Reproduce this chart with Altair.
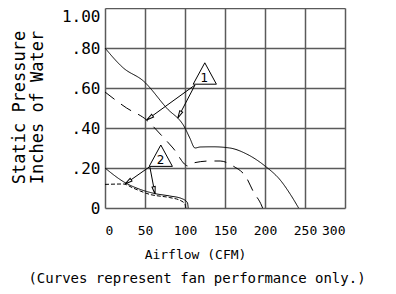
import altair as alt
import pandas as pd

# Curve 1 (solid) and curve 1 (dashed)
s1_x = [0, 23, 48, 77, 100, 106, 112.5, 119, 135, 156, 177, 200, 219, 233, 242]
s1_y = [0.80, 0.70, 0.635, 0.50, 0.40, 0.35, 0.30, 0.305, 0.306, 0.30, 0.27, 0.21, 0.14, 0.06, 0.0]
d1_x = [0, 27, 52, 69, 85, 104, 112.5, 131, 144, 160, 177, 185, 196, 197]
d1_y = [0.58, 0.50, 0.44, 0.37, 0.30, 0.21, 0.227, 0.235, 0.235, 0.21, 0.15, 0.085, 0.01, 0.0]
# Curve 2 (solid) and curve 2 (dashed)
s2_x = [0, 25, 44, 62.5, 81, 96, 103, 104]
s2_y = [0.20, 0.127, 0.093, 0.072, 0.06, 0.047, 0.027, 0.0]
d2_x = [0, 23, 35, 56, 81, 94, 100, 101]
d2_y = [0.118, 0.12, 0.10, 0.068, 0.052, 0.038, 0.02, 0.0]

# Callouts
callout_names = ["1", "2"]
callout_x = [124.75, 69.75]
callout_y = [0.6725, 0.2615]
callout_text_x = [124.0, 69.6]
callout_text_y = [0.652, 0.2385]

arrow_x = [112.5, 112.5, 56, 56]
arrow_y = [0.615, 0.615, 0.207, 0.207]
arrow_x2 = [52, 91, 25, 62.5]
arrow_y2 = [0.44, 0.45, 0.12, 0.07]

x_ticks = [0, 50, 100, 150, 200, 250, 300]
y_ticks = [0, 0.2, 0.4, 0.6, 0.8, 1.0]

FONT = "DejaVu Sans Mono"
GRID = "#5a5a5a"

xscale = alt.Scale(domain=[0, 300], nice=False, zero=False)
yscale = alt.Scale(domain=[0, 1.0], nice=False, zero=False)

x_axis = alt.Axis(values=x_ticks, grid=True, gridColor=GRID, gridWidth=1.5,
                  domain=False, ticks=False, labelFont=FONT, labelFontSize=13,
                  labelColor="black", labelPadding=16, title="Airflow (CFM)",
                  titleFont=FONT, titleFontSize=13, titleFontWeight="normal",
                  titleColor="black", titleX=90, titleY=46, titleBaseline="middle")
y_axis = alt.Axis(values=y_ticks, grid=True, gridColor=GRID, gridWidth=1.5,
                  domain=False, ticks=False, labelFont=FONT, labelFontSize=16,
                  labelColor="black", labelPadding=5,
                  labelBaseline={"condition": {"test": "datum.value >= 1", "value": "top"},
                                 "value": "middle"},
                  labelExpr="datum.value == 0 ? '0' : (datum.value >= 1 ? '1.00' : substring(format(datum.value, '.2f'), 1))",
                  title=["Static Pressure", "Inches of Water"], titleFont=FONT,
                  titleFontSize=17, titleFontWeight="normal", titleColor="black",
                  titleX=-86, titleY=99, titleBaseline="middle", titleLineHeight=18)


def X(field):
    return alt.X(field, scale=xscale, axis=x_axis)


def Y(field):
    return alt.Y(field, scale=yscale, axis=y_axis)


def curve(xs, ys, dash):
    df = pd.DataFrame({"x": xs, "y": ys})
    mk = alt.Chart(df).mark_line(color="black", strokeWidth=1, interpolate="monotone",
                                 strokeDash=dash)
    return mk.encode(x=X("x:Q"), y=Y("y:Q"))


c1 = curve(s1_x, s1_y, [1, 0])
c2 = curve(d1_x, d1_y, [12, 8])
c3 = curve(s2_x, s2_y, [1, 0])
c4 = curve(d2_x, d2_y, [4, 2])

arrows_df = pd.DataFrame({"x": arrow_x, "y": arrow_y, "x2": arrow_x2, "y2": arrow_y2})
arrows = alt.Chart(arrows_df).mark_rule(color="black", strokeWidth=1).encode(
    x=X("x:Q"), y=Y("y:Q"), x2="x2:Q", y2="y2:Q")

heads = alt.Chart(arrows_df).transform_calculate(
    ang="(atan2((datum.x2 - datum.x) * 0.8, (datum.y2 - datum.y) * 200) * 180 / PI + 360) % 360"
).mark_point(shape="M0,0L0.22,1L-0.22,1Z", size=220, filled=True, fill="white",
             stroke="black", strokeWidth=1, opacity=1).encode(
    x=X("x2:Q"), y=Y("y2:Q"), angle=alt.Angle("ang:Q", scale=None))

call_df = pd.DataFrame({"name": callout_names, "x": callout_x, "y": callout_y,
                        "tx": callout_text_x, "ty": callout_text_y})
tris = alt.Chart(call_df).mark_point(shape="M0,-0.92L1,0.92L-1,0.92Z", size=540,
                                     filled=True, fill="white", stroke="black",
                                     strokeWidth=1, opacity=1).encode(
    x=X("x:Q"), y=Y("y:Q"))
labels = alt.Chart(call_df).mark_text(font="DejaVu Sans", fontSize=12, color="black",
                                      baseline="middle").encode(
    x=X("tx:Q"), y=Y("ty:Q"), text="name:N")

chart = alt.layer(c1, c2, c3, c4, arrows, heads, tris, labels).properties(
    width=240, height=200,
    autosize=alt.AutoSizeParams(type="none"),
    padding={"left": 97, "top": 0, "right": 40, "bottom": 84},
    title=alt.TitleParams("(Curves represent fan performance only.)", orient="bottom",
                          font=FONT, fontSize=14, fontWeight="normal", color="black",
                          offset=11, dx=-28),
).configure_view(stroke=None)

chart.save("out.html", embed_options={"renderer": "svg", "actions": False})
